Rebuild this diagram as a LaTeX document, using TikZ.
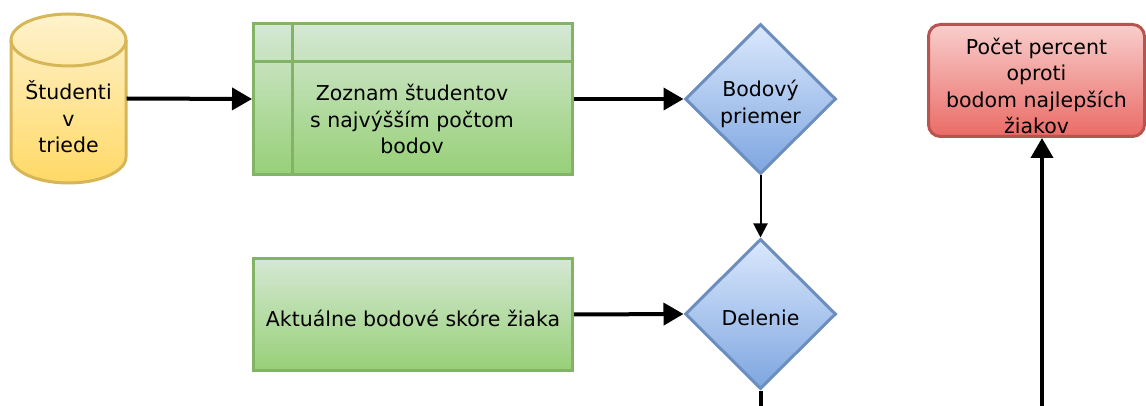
\documentclass[tikz,border=0pt]{standalone}
\usepackage{fontspec}
\setmainfont{DejaVu Sans}
\usetikzlibrary{shapes.geometric,arrows.meta}
\definecolor{ytop}{HTML}{FFF2CC}\definecolor{ybot}{HTML}{FFD966}\definecolor{ystroke}{HTML}{D6B656}
\definecolor{gtop}{HTML}{D5E8D4}\definecolor{gbot}{HTML}{97D077}\definecolor{gstroke}{HTML}{82B366}
\definecolor{btop}{HTML}{DAE8FC}\definecolor{bbot}{HTML}{7EA6E0}\definecolor{bstroke}{HTML}{6C8EBF}
\definecolor{rtop}{HTML}{F8CECC}\definecolor{rbot}{HTML}{EA6B66}\definecolor{rstroke}{HTML}{B85450}
\tikzset{
  txt/.style={align=center,inner sep=0pt,font=\fontsize{20.5}{26.5}\selectfont},
  gbox/.style={draw=gstroke,line width=3pt,top color=gtop,bottom color=gbot,rectangle,inner sep=0pt},
  bdia/.style={draw=bstroke,line width=3pt,top color=btop,bottom color=bbot,diamond,inner sep=0pt,
     minimum width=151pt,minimum height=150pt},
  rbox/.style={draw=rstroke,line width=3pt,top color=rtop,bottom color=rbot,rectangle,rounded corners=12pt,inner sep=0pt},
  thick arrow/.style={line width=4pt,-{Triangle[length=20pt,width=22pt]}},
  thin arrow/.style={line width=2pt,-{Triangle[length=14pt,width=14pt]}},
}
\begin{document}
\begin{tikzpicture}[x=1pt,y=-1pt]
\useasboundingbox (0,0) rectangle (1146,406);
\clip (0,0) rectangle (1146,406);
% cylinder
\path[top color=ytop,bottom color=ybot] (11,40) -- (11,157) arc (180:360:57.5pt and 26pt) -- (126,40) arc (0:180:57.5pt and 26pt) -- cycle;
\draw[ystroke,line width=3pt] (11,40) -- (11,157) arc (180:360:57.5pt and 26pt) -- (126,40) arc (0:180:57.5pt and 26pt) -- cycle;
\draw[ystroke,line width=3pt] (11,40) arc (180:360:57.5pt and 26pt);
\node[inner sep=0pt,minimum width=116pt,minimum height=169pt] (cyl) at (68.5,98.5) {};
\node[txt] (cyltext) at (68.5,117) {Študenti\\v\\triede};
% box 1
\node[gbox,minimum width=319pt,minimum height=151pt] (box1) at (413,99) {};
\draw[gstroke,line width=3pt] (box1.north west -| 292,0) -- (box1.south west -| 292,0);
\draw[gstroke,line width=3pt] (box1.north west |- 0,62) -- (box1.north east |- 0,62);
\node[txt] (box1text) at (412,119) {Zoznam študentov\\s najvýšším počtom\\bodov};
% box 2
\node[gbox,minimum width=319pt,minimum height=112pt] (box2) at (413,314.5) {};
\node[txt] (box2text) at (413,318) {Aktuálne bodové skóre žiaka};
% diamonds
\node[bdia] (d1) at (760.5,99) {};
\node[txt] (d1text) at (760.5,104) {Bodový\\priemer};
\node[bdia] (d2) at (760.5,314) {};
\node[txt] (d2text) at (760.5,318) {Delenie};
% red box
\node[rbox,minimum width=216pt,minimum height=112pt] (red) at (1036.5,80.5) {};
\node[txt] (redtext) at (1036.5,86) {Počet percent\\oproti\\bodom najlepších\\žiakov};
% free ends
\coordinate (e1) at (760.5,410);
\coordinate (e2) at (1042,410);
% connectors
\draw[thick arrow] (cyl.east) -- (box1.west);
\draw[thick arrow] (box1.east) -- (d1.west);
\draw[thin arrow] (d1.south) -- (d2.north);
\draw[thick arrow] (box2.east) -- (d2.west);
\draw[line width=4pt] (d2.south) -- (e1);
\draw[thick arrow] (e2) -- (e2 |- red.south);
\end{tikzpicture}
\end{document}
